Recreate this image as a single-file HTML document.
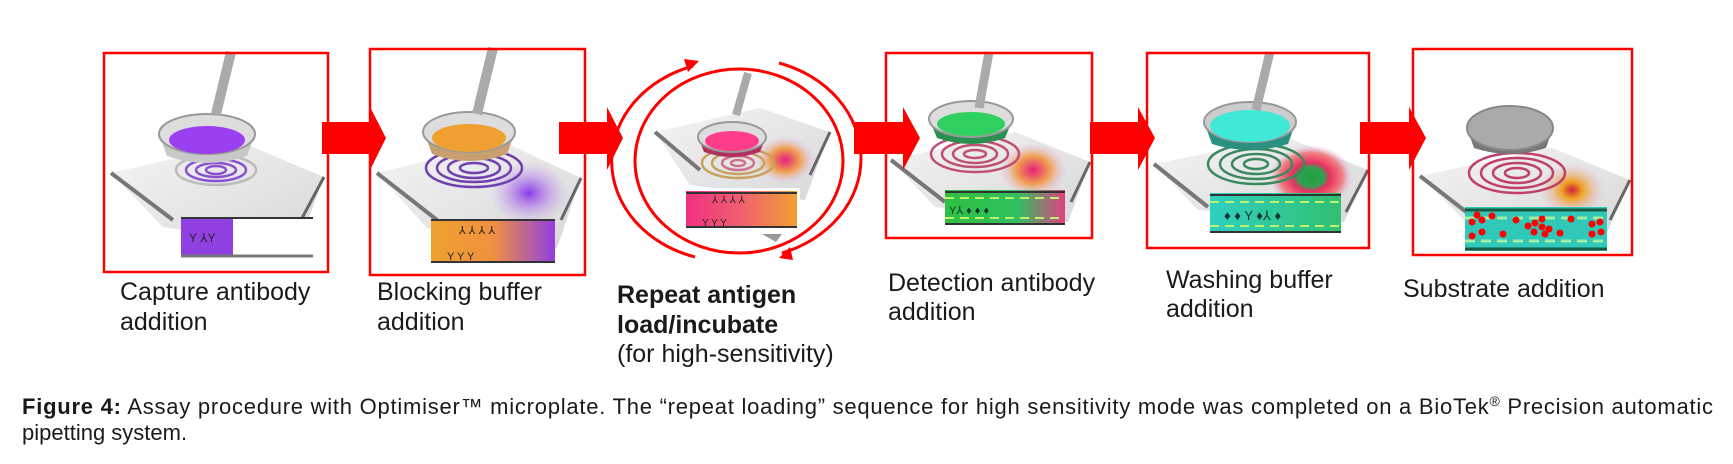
<!DOCTYPE html>
<html><head><meta charset="utf-8"><style>
html,body{margin:0;padding:0;background:#fff;}
svg{display:block;font-family:"Liberation Sans",Arial,sans-serif;}
</style></head><body>
<svg width="1733" height="464" viewBox="0 0 1733 464" xmlns="http://www.w3.org/2000/svg">
<defs>
<linearGradient id="plate" x1="0" y1="0" x2="1" y2="1"><stop offset="0" stop-color="#f4f4f4"/><stop offset="1" stop-color="#d8d8d8"/></linearGradient>
<radialGradient id="gPurple"><stop offset="0" stop-color="#8a3ae8"/><stop offset="1" stop-color="#c9a0f0" stop-opacity="0"/></radialGradient>
<radialGradient id="gPink"><stop offset="0" stop-color="#e8207a"/><stop offset="0.5" stop-color="#f0a050"/><stop offset="1" stop-color="#e0c0f0" stop-opacity="0"/></radialGradient>
<radialGradient id="gRing"><stop offset="0" stop-color="#20a040"/><stop offset="0.3" stop-color="#30a050"/><stop offset="0.45" stop-color="#e83060"/><stop offset="0.75" stop-color="#f08080"/><stop offset="1" stop-color="#e0c0f0" stop-opacity="0"/></radialGradient>
<radialGradient id="gSub"><stop offset="0" stop-color="#d02040"/><stop offset="0.3" stop-color="#f0a020"/><stop offset="1" stop-color="#e0c0f0" stop-opacity="0"/></radialGradient>
<linearGradient id="i2"><stop offset="0" stop-color="#f0a030"/><stop offset="0.5" stop-color="#f09040"/><stop offset="1" stop-color="#9040e0"/></linearGradient>
<linearGradient id="i3"><stop offset="0" stop-color="#f03080"/><stop offset="0.5" stop-color="#f06070"/><stop offset="1" stop-color="#f0a030"/></linearGradient>
<linearGradient id="i4"><stop offset="0" stop-color="#30c040"/><stop offset="0.6" stop-color="#30c060"/><stop offset="1" stop-color="#e04080"/></linearGradient>
<linearGradient id="i5"><stop offset="0" stop-color="#30d0c0"/><stop offset="1" stop-color="#30c070"/></linearGradient>
</defs>
<rect width="1733" height="464" fill="#fff"/>

<!-- PANEL 1 -->
<g transform="translate(103,52)">
<rect width="226" height="221" fill="#fff"/>
<polygon points="8,121 140,91 221,125 195,195 60,175" fill="url(#plate)"/>
<line x1="8" y1="121" x2="70" y2="168" stroke="#777" stroke-width="4"/>
<line x1="221" y1="125" x2="198" y2="168" stroke="#666" stroke-width="3"/>
<g fill="none" stroke="#8a50d0" stroke-width="2.5"><ellipse cx="113" cy="118" rx="40" ry="15" stroke="#bbb"/><ellipse cx="113" cy="118" rx="30" ry="11"/><ellipse cx="113" cy="118" rx="20" ry="7"/><ellipse cx="113" cy="118" rx="10" ry="4"/></g>
<path d="M56,82 L64,104 Q104,118 144,104 L152,82 Z" fill="#c8c8c8"/>
<ellipse cx="104" cy="82" rx="48" ry="20" fill="#ddd" stroke="#999" stroke-width="2"/>
<ellipse cx="104" cy="88" rx="38" ry="14" fill="#9a40f0"/>
<line x1="128" y1="0" x2="113" y2="62" stroke="#aaa" stroke-width="10"/>
<rect x="78" y="166" width="132" height="38" fill="#fff"/>
<rect x="78" y="166" width="52" height="38" fill="#9040e0"/>
<line x1="78" y1="166" x2="210" y2="166" stroke="#333" stroke-width="2"/>
<line x1="78" y1="204" x2="210" y2="204" stroke="#777" stroke-width="3"/>
<text x="86" y="190" font-size="12" fill="#222">Y ⅄Y</text>
<rect x="1" y="1" width="224" height="219" fill="none" stroke="#f00" stroke-width="2.5"/>
</g>

<!-- PANEL 2 -->
<g transform="translate(369,48)">
<rect width="217" height="228" fill="#fff"/>
<polygon points="8,125 135,94 212,130 188,200 58,180" fill="url(#plate)"/>
<line x1="8" y1="125" x2="68" y2="172" stroke="#777" stroke-width="4"/>
<line x1="212" y1="130" x2="192" y2="172" stroke="#666" stroke-width="3"/>
<ellipse cx="160" cy="145" rx="40" ry="32" fill="url(#gPurple)"/>
<g fill="none" stroke="#7040b0" stroke-width="2.5"><ellipse cx="105" cy="120" rx="48" ry="19"/><ellipse cx="105" cy="120" rx="37" ry="14"/><ellipse cx="105" cy="120" rx="26" ry="10"/><ellipse cx="105" cy="120" rx="14" ry="5"/></g>
<path d="M55,84 L63,106 Q100,120 138,106 L146,84 Z" fill="#c8a070"/>
<ellipse cx="100" cy="84" rx="46" ry="20" fill="#ddd" stroke="#999" stroke-width="2"/>
<ellipse cx="100" cy="90" rx="37" ry="14" fill="#f0a030"/>
<line x1="124" y1="0" x2="108" y2="66" stroke="#aaa" stroke-width="10"/>
<rect x="62" y="172" width="124" height="42" fill="url(#i2)"/>
<line x1="62" y1="172" x2="186" y2="172" stroke="#333" stroke-width="2"/>
<line x1="62" y1="214" x2="186" y2="214" stroke="#333" stroke-width="2"/>
<text x="90" y="186" font-size="11" fill="#222">⅄  ⅄  ⅄  ⅄</text>
<text x="78" y="212" font-size="11" fill="#222">Y  Y       Y</text>
<rect x="1" y="1" width="215" height="226" fill="none" stroke="#f00" stroke-width="2.5"/>
</g>

<!-- PANEL 3 circle -->
<g>
<ellipse cx="739" cy="161" rx="104" ry="92" fill="#fff"/>
<polygon points="655,132 760,108 830,132 805,200 690,185" fill="url(#plate)"/>
<line x1="655" y1="132" x2="700" y2="170" stroke="#777" stroke-width="4"/>
<line x1="830" y1="132" x2="810" y2="175" stroke="#666" stroke-width="3"/>
<ellipse cx="785" cy="160" rx="30" ry="24" fill="url(#gPink)"/>
<g fill="none" stroke="#c8a060" stroke-width="2.5"><ellipse cx="738" cy="163" rx="36" ry="15"/><ellipse cx="738" cy="163" rx="26" ry="11"/><ellipse cx="738" cy="163" rx="16" ry="7" stroke="#d0708a"/><ellipse cx="738" cy="163" rx="7" ry="3" stroke="#d0708a"/></g>
<path d="M698,137 L704,152 Q732,162 760,152 L766,137 Z" fill="#b03060"/>
<ellipse cx="732" cy="137" rx="34" ry="15" fill="#ddd" stroke="#999" stroke-width="2"/>
<ellipse cx="732" cy="141" rx="27" ry="10" fill="#ff3d8a"/>
<line x1="748" y1="73" x2="736" y2="115" stroke="#aaa" stroke-width="8"/>
<rect x="683" y="188" width="117" height="44" fill="#fff"/>
<rect x="686" y="191" width="111" height="37" fill="url(#i3)"/>
<line x1="686" y1="193" x2="797" y2="193" stroke="#333" stroke-width="2"/>
<line x1="686" y1="227" x2="797" y2="227" stroke="#333" stroke-width="2"/>
<text x="712" y="203" font-size="10" fill="#222">⅄  ⅄  ⅄  ⅄</text>
<text x="702" y="226" font-size="10" fill="#222">Y  Y       Y</text>
<polygon points="762,234 782,234 776,242" fill="#999"/>
<ellipse cx="739" cy="161" rx="104" ry="92" fill="none" stroke="#f00" stroke-width="3"/>
<path d="M695,257 A117,100 0 0 1 693,66" fill="none" stroke="#f00" stroke-width="3"/>
<polygon points="699,61 684,59 688,72" fill="#f00"/>
<path d="M779,63 A117,100 0 0 1 782,253" fill="none" stroke="#f00" stroke-width="3"/>
<polygon points="779,258 793,260 790,247" fill="#f00"/>
</g>

<!-- PANEL 4 -->
<g transform="translate(885,52)">
<rect width="207" height="186" fill="#fff"/>
<polygon points="6,108 130,80 205,110 183,170 50,155" fill="url(#plate)"/>
<line x1="6" y1="108" x2="60" y2="150" stroke="#777" stroke-width="4"/>
<line x1="205" y1="110" x2="186" y2="150" stroke="#666" stroke-width="3"/>
<ellipse cx="148" cy="118" rx="34" ry="28" fill="url(#gPink)"/>
<g fill="none" stroke="#c05070" stroke-width="2.5"><ellipse cx="90" cy="102" rx="44" ry="18"/><ellipse cx="90" cy="102" rx="33" ry="13"/><ellipse cx="90" cy="102" rx="22" ry="9"/><ellipse cx="90" cy="102" rx="11" ry="4"/></g>
<path d="M44,67 L52,86 Q86,98 120,86 L128,67 Z" fill="#2a9050"/>
<ellipse cx="86" cy="67" rx="42" ry="18" fill="#ddd" stroke="#999" stroke-width="2"/>
<ellipse cx="86" cy="72" rx="34" ry="12" fill="#30d060"/>
<line x1="104" y1="0" x2="94" y2="56" stroke="#aaa" stroke-width="9"/>
<rect x="60" y="138" width="120" height="35" fill="url(#i4)"/>
<line x1="60" y1="140" x2="180" y2="140" stroke="#333" stroke-width="2"/>
<line x1="60" y1="172" x2="180" y2="172" stroke="#333" stroke-width="2"/>
<line x1="60" y1="146" x2="180" y2="146" stroke="#c0f070" stroke-width="2" stroke-dasharray="9 6"/>
<line x1="60" y1="166" x2="180" y2="166" stroke="#c0f070" stroke-width="2" stroke-dasharray="9 6"/>
<text x="64" y="162" font-size="11" fill="#133">Y⅄ ♦ ♦    ♦</text>
<rect x="1" y="1" width="206" height="185" fill="none" stroke="#f00" stroke-width="2.5"/>
</g>

<!-- PANEL 5 -->
<g transform="translate(1146,52)">
<rect width="224" height="196" fill="#fff"/>
<polygon points="8,112 140,85 222,118 198,170 52,158" fill="url(#plate)"/>
<line x1="8" y1="112" x2="62" y2="155" stroke="#777" stroke-width="4"/>
<line x1="222" y1="118" x2="200" y2="160" stroke="#666" stroke-width="3"/>
<ellipse cx="165" cy="125" rx="42" ry="32" fill="url(#gRing)"/>
<g fill="none" stroke="#3a8a60" stroke-width="2.5"><ellipse cx="110" cy="112" rx="48" ry="20"/><ellipse cx="110" cy="112" rx="36" ry="15"/><ellipse cx="110" cy="112" rx="24" ry="10"/><ellipse cx="110" cy="112" rx="12" ry="5"/></g>
<path d="M58,70 L66,92 Q104,104 142,92 L150,70 Z" fill="#2a9080"/>
<ellipse cx="104" cy="70" rx="46" ry="20" fill="#ccc" stroke="#999" stroke-width="2"/>
<ellipse cx="104" cy="74" rx="40" ry="16" fill="#40e8d8"/>
<line x1="124" y1="0" x2="110" y2="58" stroke="#aaa" stroke-width="9"/>
<rect x="64" y="141" width="131" height="40" fill="url(#i5)"/>
<line x1="64" y1="143" x2="195" y2="143" stroke="#333" stroke-width="2"/>
<line x1="64" y1="180" x2="195" y2="180" stroke="#333" stroke-width="2"/>
<line x1="64" y1="150" x2="195" y2="150" stroke="#c0f070" stroke-width="2" stroke-dasharray="9 6"/>
<line x1="64" y1="174" x2="195" y2="174" stroke="#c0f070" stroke-width="2" stroke-dasharray="9 6"/>
<text x="78" y="168" font-size="13" fill="#133">♦ ♦ Y ♦⅄ ♦</text>
<rect x="1" y="1" width="222" height="195" fill="none" stroke="#f00" stroke-width="2.5"/>
</g>

<!-- PANEL 6 -->
<g transform="translate(1412,48)">
<rect width="221" height="208" fill="#fff"/>
<polygon points="8,128 140,100 218,132 195,185 52,172" fill="url(#plate)"/>
<line x1="8" y1="128" x2="62" y2="170" stroke="#777" stroke-width="4"/>
<line x1="218" y1="132" x2="198" y2="172" stroke="#666" stroke-width="3"/>
<ellipse cx="160" cy="142" rx="34" ry="28" fill="url(#gSub)"/>
<g fill="none" stroke="#c04068" stroke-width="2.5"><ellipse cx="105" cy="125" rx="48" ry="20"/><ellipse cx="105" cy="125" rx="36" ry="15"/><ellipse cx="105" cy="125" rx="24" ry="10"/><ellipse cx="105" cy="125" rx="12" ry="5"/></g>
<path d="M55,80 L62,100 Q98,112 134,100 L141,80 Z" fill="#777"/>
<ellipse cx="98" cy="80" rx="43" ry="22" fill="#aaa" stroke="#888" stroke-width="2"/>
<rect x="53" y="159" width="142" height="44" fill="#30c8b8"/>
<line x1="53" y1="162" x2="195" y2="162" stroke="#1a5a40" stroke-width="3"/>
<line x1="53" y1="201" x2="195" y2="201" stroke="#1a5a40" stroke-width="3"/>
<line x1="53" y1="170" x2="195" y2="170" stroke="#a0f0a0" stroke-width="3" stroke-dasharray="10 6"/>
<line x1="53" y1="193" x2="195" y2="193" stroke="#a0f0a0" stroke-width="3" stroke-dasharray="10 6"/>
<g fill="#f00"><circle cx="60" cy="174" r="3.5"/><circle cx="65" cy="167" r="3.5"/><circle cx="70" cy="172" r="3.5"/><circle cx="80" cy="168" r="3.5"/><circle cx="60" cy="188" r="3.5"/><circle cx="70" cy="184" r="3.5"/><circle cx="91" cy="186" r="3.5"/><circle cx="104" cy="172" r="3.5"/><circle cx="116" cy="178" r="3.5"/><circle cx="123" cy="175" r="3.5"/><circle cx="130" cy="171" r="3.5"/><circle cx="122" cy="184" r="3.5"/><circle cx="130" cy="179" r="3.5"/><circle cx="137" cy="181" r="3.5"/><circle cx="133" cy="186" r="3.5"/><circle cx="148" cy="185" r="3.5"/><circle cx="159" cy="171" r="3.5"/><circle cx="180" cy="176" r="3.5"/><circle cx="188" cy="174" r="3.5"/><circle cx="180" cy="186" r="3.5"/><circle cx="189" cy="184" r="3.5"/></g>
<rect x="1" y="1" width="219" height="206" fill="none" stroke="#f00" stroke-width="2.5"/>
</g>

<!-- ARROWS -->
<g fill="#f00">
<polygon points="322,122 370,122 370,107 386,138 370,170 370,154 322,154"/>
<polygon points="559,122 607,122 607,107 623,138 607,170 607,154 559,154"/>
<polygon points="854,122 903,122 903,107 920,138 903,170 903,154 854,154"/>
<polygon points="1090,122 1138,122 1138,107 1155,138 1138,170 1138,154 1090,154"/>
<polygon points="1360,122 1409,122 1409,107 1426,138 1409,170 1409,154 1360,154"/>
</g>

<!-- LABELS -->
<g font-size="25" fill="#1a1a1a">
<text x="120" y="300">Capture antibody</text>
<text x="120" y="330">addition</text>
<text x="377" y="300">Blocking buffer</text>
<text x="377" y="330">addition</text>
<text x="617" y="303" font-weight="bold">Repeat antigen</text>
<text x="617" y="333" font-weight="bold">load/incubate</text>
<text x="617" y="362">(for high-sensitivity)</text>
<text x="888" y="291">Detection antibody</text>
<text x="888" y="320">addition</text>
<text x="1166" y="288">Washing buffer</text>
<text x="1166" y="317">addition</text>
<text x="1403" y="297">Substrate addition</text>
</g>
<g font-size="22" fill="#1a1a1a">
<text x="22" y="414" textLength="1691" lengthAdjust="spacing"><tspan font-weight="bold">Figure 4:</tspan>  Assay procedure with Optimiser™ microplate.  The “repeat loading” sequence for high sensitivity mode was completed on a BioTek<tspan font-size="14" dy="-8">®</tspan><tspan dy="8"> Precision automatic</tspan></text>
<text x="22" y="440">pipetting system.</text>
</g>
</svg>
</body></html>
